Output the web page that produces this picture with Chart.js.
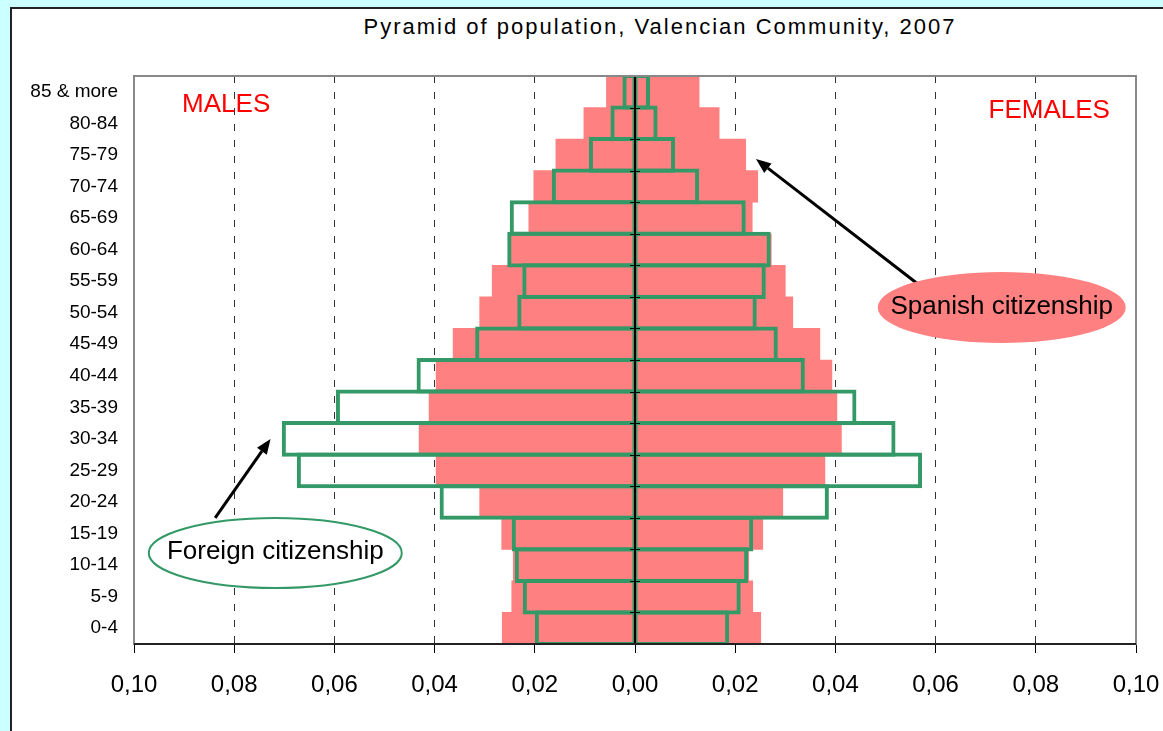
<!DOCTYPE html>
<html>
<head>
<meta charset="utf-8">
<title>Pyramid of population, Valencian Community, 2007</title>
<script src="https://cdn.jsdelivr.net/npm/chart.js@4.4.1/dist/chart.umd.min.js"></script>
<style>
  body { margin: 0; background: #ccffff; overflow: hidden; font-family: "Liberation Sans", Arial, sans-serif; }
  #frame { position: absolute; left: 10px; top: 7px; width: 1300px; height: 800px; border: 2px solid #222; background: #fff; }
  #title { position: absolute; left: 0; top: 5px; width: 1296px; text-align: center; font-size: 22px; line-height: 26px; letter-spacing: 2px; color: #000; }
  #pyramid { position: absolute; left: 0; top: 0; }
</style>
</head>
<body>
<div id="frame">
  <div id="title">Pyramid of population, Valencian Community, 2007</div>
  <canvas id="pyramid" width="1296" height="740"></canvas>
</div>
<script>
// age groups, top of the pyramid first
const ageGroups = ['85 & more', '80-84', '75-79', '70-74', '65-69', '60-64', '55-59', '50-54', '45-49',
  '40-44', '35-39', '30-34', '25-29', '20-24', '15-19', '10-14', '5-9', '0-4'];

// shares of population (red filled bars)
const spanishMales = [0.0057, 0.0102, 0.0158, 0.0202, 0.0212, 0.0252, 0.0285, 0.0310, 0.0363,
  0.0397, 0.0411, 0.0431, 0.0397, 0.0310, 0.0266, 0.0243, 0.0246, 0.0265];
const spanishFemales = [0.0128, 0.0168, 0.0221, 0.0245, 0.0234, 0.0272, 0.0300, 0.0315, 0.0369,
  0.0393, 0.0403, 0.0412, 0.0379, 0.0295, 0.0255, 0.0227, 0.0235, 0.0251];

// green outlined bars
const foreignMales = [0.0025, 0.0049, 0.0092, 0.0166, 0.0250, 0.0255, 0.0225, 0.0235, 0.0319,
  0.0436, 0.0597, 0.0705, 0.0675, 0.0390, 0.0246, 0.0240, 0.0224, 0.0200];
const foreignFemales = [0.0030, 0.0045, 0.0080, 0.0128, 0.0221, 0.0271, 0.0261, 0.0243, 0.0285,
  0.0339, 0.0442, 0.0520, 0.0573, 0.0387, 0.0236, 0.0226, 0.0211, 0.0188];

const xTicks = [-0.10, -0.08, -0.06, -0.04, -0.02, 0, 0.02, 0.04, 0.06, 0.08, 0.10];

const RED = '#ff8080';
const GREEN = '#339966';
const FONT = '"Liberation Sans", Arial, sans-serif';

// males go to the left
const toLeft = arr => arr.map(v => -v);

function outlineSet(label, data, side) {
  return {
    label: label,
    data: data,
    backgroundColor: 'rgba(0,0,0,0)',
    borderColor: GREEN,
    borderWidth: side === 'left' ? { top: 4, bottom: 4, left: 4, right: 2 } : { top: 4, bottom: 4, left: 2, right: 4 },
    borderSkipped: false,
    barPercentage: 1.13, // lets the outlines of neighbouring rows share one line
    categoryPercentage: 1,
    grouped: false,
    order: 0
  };
}

function filledSet(label, data) {
  return {
    label: label,
    data: data,
    backgroundColor: RED,
    borderWidth: 0,
    barPercentage: 1,
    categoryPercentage: 1,
    grouped: false,
    order: 1
  };
}

// axis at zero, plot frame, labels and the two callouts
const decorations = {
  id: 'decorations',
  afterDatasetsDraw(chart) {
    const { ctx, chartArea: a, scales: { x, y } } = chart;
    const x0 = x.getPixelForValue(0);
    ctx.save();
    ctx.strokeStyle = '#000';
    ctx.lineWidth = 2;
    ctx.beginPath();
    ctx.moveTo(x0, a.top);
    ctx.lineTo(x0, a.bottom);
    ctx.stroke();
    ctx.lineWidth = 1;
    ctx.beginPath();
    for (let i = 0; i <= ageGroups.length; i++) {
      const yy = Math.round(y.getPixelForValue(i - 0.5)) + 0.5;
      ctx.moveTo(x0 - 5, yy);
      ctx.lineTo(x0 + 5, yy);
    }
    ctx.stroke();
    ctx.restore();
  },
  afterDraw(chart) {
    const { ctx, chartArea: a, scales: { x, y } } = chart;
    const px = v => x.getPixelForValue(v);
    const py = i => y.getPixelForValue(i);
    ctx.save();

    // plot frame
    ctx.strokeStyle = '#888';
    ctx.lineWidth = 2;
    ctx.strokeRect(a.left, a.top, a.right - a.left, a.bottom - a.top);
    ctx.strokeStyle = '#000';
    ctx.lineWidth = 1.5;
    ctx.beginPath();
    ctx.moveTo(a.left, a.bottom);
    ctx.lineTo(a.right, a.bottom);
    ctx.stroke();

    // MALES / FEMALES
    ctx.fillStyle = '#ff0000';
    ctx.font = '26px ' + FONT;
    ctx.textBaseline = 'middle';
    ctx.textAlign = 'left';
    ctx.fillText('MALES', px(-0.0904), py(0.40));
    ctx.textAlign = 'right';
    ctx.fillText('FEMALES', px(0.0948), py(0.61));

    // callouts
    function arrow(fromX, fromY, toX, toY) {
      const x1 = px(fromX), y1 = py(fromY), x2 = px(toX), y2 = py(toY);
      const ang = Math.atan2(y2 - y1, x2 - x1);
      const len = 15, half = 6;
      const bx = x2 - len * Math.cos(ang), by = y2 - len * Math.sin(ang);
      ctx.strokeStyle = '#000';
      ctx.fillStyle = '#000';
      ctx.lineWidth = 3;
      ctx.beginPath();
      ctx.moveTo(x1, y1);
      ctx.lineTo(bx, by);
      ctx.stroke();
      ctx.beginPath();
      ctx.moveTo(x2, y2);
      ctx.lineTo(bx + half * Math.sin(ang), by - half * Math.cos(ang));
      ctx.lineTo(bx - half * Math.sin(ang), by + half * Math.cos(ang));
      ctx.closePath();
      ctx.fill();
    }

    function bubble(cx, cy, rx, ry, fill, stroke, text) {
      ctx.beginPath();
      ctx.ellipse(px(cx), py(cy), rx, ry, 0, 0, Math.PI * 2);
      ctx.fillStyle = fill;
      ctx.fill();
      if (stroke) {
        ctx.strokeStyle = stroke;
        ctx.lineWidth = 2;
        ctx.stroke();
      }
      ctx.fillStyle = '#000';
      ctx.font = '26px ' + FONT;
      ctx.textAlign = 'center';
      ctx.textBaseline = 'middle';
      ctx.fillText(text, px(cx), py(cy) - 1);
    }

    arrow(0.0575, 6.217, 0.02415, 2.13);
    bubble(0.0732, 6.835, 124, 35.5, RED, null, 'Spanish citizenship');

    arrow(-0.0838, 13.505, -0.07275, 11.002);
    bubble(-0.0718, 14.614, 126.5, 35, '#fff', GREEN, 'Foreign citizenship');

    ctx.restore();
  }
};

const pyramidChart = new Chart(document.getElementById('pyramid').getContext('2d'), {
  type: 'bar',
  data: {
    labels: ageGroups,
    datasets: [
      outlineSet('Foreign citizenship, males', toLeft(foreignMales), 'left'),
      outlineSet('Foreign citizenship, females', foreignFemales, 'right'),
      filledSet('Spanish citizenship, males', toLeft(spanishMales)),
      filledSet('Spanish citizenship, females', spanishFemales)
    ]
  },
  options: {
    indexAxis: 'y',
    responsive: false,
    animation: false,
    layout: { padding: { top: 67, right: 172, bottom: 0, left: 0 } },
    plugins: {
      legend: { display: false },
      title: { display: false },
      tooltip: { enabled: false }
    },
    scales: {
      x: {
        type: 'linear',
        min: -0.1,
        max: 0.1,
        afterBuildTicks: scale => { scale.ticks = xTicks.map(v => ({ value: v })); },
        afterFit: scale => { scale.height = 105; },
        grid: {
          color: ctx => {
            const v = ctx.tick ? Math.abs(ctx.tick.value) : 0;
            return v > 1e-9 && v < 0.099 ? '#333' : 'rgba(0,0,0,0)';
          },
          lineWidth: 1,
          tickColor: '#000',
          tickLength: 9,
          tickWidth: 1,
          tickBorderDash: [],
          borderDash: [7, 9]
        },
        border: { display: false, dash: [7, 9] },
        ticks: {
          color: '#000',
          padding: 18,
          maxRotation: 0,
          font: { family: FONT, size: 24 },
          callback: value => Math.abs(value).toFixed(2).replace('.', ',')
        }
      },
      y: {
        type: 'category',
        afterFit: scale => { scale.width = 122; },
        grid: { display: false },
        border: { display: false },
        ticks: {
          color: '#000',
          padding: 8,
          font: { family: FONT, size: 19 }
        }
      }
    }
  },
  plugins: [decorations]
});
</script>
</body>
</html>
